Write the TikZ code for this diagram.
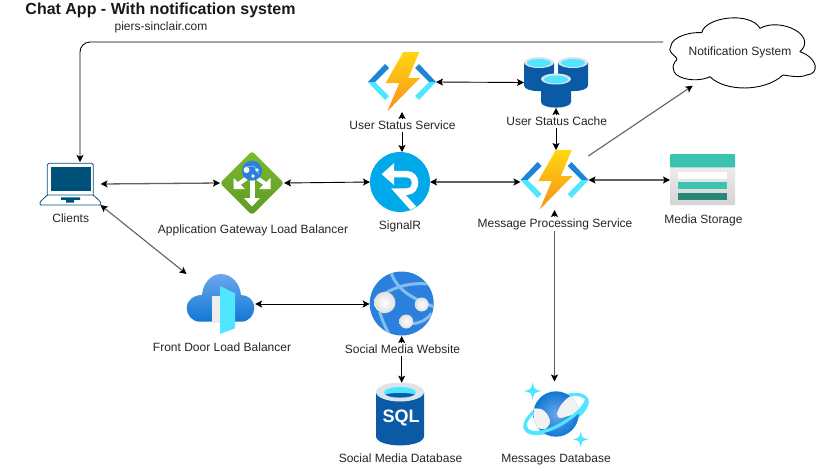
\documentclass[tikz,border=0pt]{standalone}
\usepackage{fontspec}
\setmainfont{Liberation Sans}
\usetikzlibrary{arrows.meta}
\definecolor{funcdark}{HTML}{1B85DA}
\definecolor{funclight}{HTML}{50E6FF}
\definecolor{boltup}{HTML}{FFD70F}
\definecolor{boltdown}{HTML}{F98F1D}
\definecolor{drumedge}{HTML}{0A5AA5}
\definecolor{drummid}{HTML}{0A78D0}
\definecolor{rimgray}{HTML}{DDE3E8}
\definecolor{azureblue}{HTML}{2A80DC}
\definecolor{bandblue}{HTML}{86BDF0}
\definecolor{signalblue}{HTML}{00A9EA}
\definecolor{gateup}{HTML}{7CBA2E}
\definecolor{gatedown}{HTML}{5C9A26}
\definecolor{laptopblue}{HTML}{00517A}
\definecolor{doorup}{HTML}{6CA6EE}
\definecolor{doordown}{HTML}{0F78D4}
\definecolor{tealup}{HTML}{3AC4B0}
\definecolor{tealdown}{HTML}{2A8577}
\tikzset{
	>={Stealth[length=7pt,width=7pt,inset=1.5pt,color=black]},
	iconbox/.style={inner sep=0,outer sep=0},
	textlabel/.style={inner sep=0,outer sep=0,fill=white,text=black!85,font=\fontsize{12}{14}\selectfont,text height=10.5pt,text depth=3pt},
	thinlink/.style={<->,line width=0.9pt,color=black},
	greylink/.style={<->,line width=1.3pt,color=black!62},
}
% function icon, brackets and bolt
\def\funcicon(#1,#2){
	\begin{scope}[shift={(#1,#2)}]
		\fill[funcdark] (-34,0) -- (-17,-18) -- (-13,-14) -- (-27,0) -- cycle;
		\fill[funclight] (-34,0) -- (-17,18) -- (-13,14) -- (-27,0) -- cycle;
		\fill[funcdark] (34,0) -- (17,-18) -- (13,-14) -- (27,0) -- cycle;
		\fill[funclight] (34,0) -- (17,18) -- (13,14) -- (27,0) -- cycle;
		\shade[top color=boltup,bottom color=boltdown] (1.3,-30) -- (17.3,-30) -- (6.3,-4) -- (18,-4) -- (-14.7,29.3) -- (-2.7,1) -- (-16.3,1) -- cycle;
	\end{scope}
}
% one drum of the cache
\def\cachedrum(#1,#2){
	\begin{scope}[shift={(#1,#2)}]
		\shade[left color=drumedge,middle color=drummid,right color=drumedge] (-15,0) -- (-15,23) .. controls (-15,30.5) and (15,30.5) .. (15,23) -- (15,0) -- cycle;
		\fill[rimgray] (0,0) ellipse (15 and 5.5);
		\fill[funclight] (0,0.5) ellipse (12 and 4);
	\end{scope}
}
\def\sparkle(#1,#2,#3){
	\fill[funclight,shift={(#1,#2)}] (0,-#3) .. controls (0.17*#3,-0.17*#3) .. (#3,0) .. controls (0.17*#3,0.17*#3) .. (0,#3) .. controls (-0.17*#3,0.17*#3) .. (-#3,0) .. controls (-0.17*#3,-0.17*#3) .. cycle;
}

\begin{document}
\begin{tikzpicture}[x=1pt,y=-1pt]
		%%%%% START %%%%%
		\useasboundingbox (0,0) rectangle (821,467);

		\node[iconbox,minimum width=60,minimum height=42] (clients) at (70.5,184) {};
		\node[iconbox,minimum width=64,minimum height=64] (gateway) at (252,183) {};
		\node[iconbox,minimum width=60,minimum height=60] (signalr) at (400,182) {};
		\node[iconbox,minimum width=68,minimum height=60] (statusfunc) at (402,82) {};
		\node[iconbox,minimum width=64,minimum height=51] (statuscache) at (556,82.5) {};
		\node[iconbox,minimum width=68,minimum height=60] (messagefunc) at (554.5,180) {};
		\node[iconbox,minimum width=65,minimum height=51] (mediastore) at (702.5,180) {};
		\node[iconbox,minimum width=68.5,minimum height=48] (frontdoor) at (220.8,298) {};
		\node[iconbox,minimum width=64,minimum height=64] (website) at (401.7,304) {};
		\node[iconbox,minimum width=48,minimum height=63] (sqldb) at (400,414.2) {};
		\node[iconbox,minimum width=64,minimum height=66] (cosmosdb) at (556,414.5) {};

		% laptop
		\draw[laptopblue,line width=0.8pt,rounded corners=1.5pt] (47.3,195) -- (47.3,163.3) -- (93.3,163.3) -- (93.3,195);
		\fill[laptopblue] (50.7,166.7) rectangle (90.7,190.7);
		\draw[laptopblue,line width=0.8pt,rounded corners=1pt] (47.3,195) -- (93.3,195) -- (100.7,202) -- (100.7,205) -- (40,205) -- (40,202) -- cycle;
		\fill[laptopblue] (61,197.3) -- (80,197.3) -- (80,199.8) -- (74,199.8) -- (74,202.5) -- (66,202.5) -- (66,199.8) -- (61,199.8) -- cycle;

		% gateway
		\shade[top color=gateup,bottom color=gatedown,rounded corners=3pt] (252,151) -- (284,183) -- (252,215) -- (220,183) -- cycle;
		\begin{scope}[shift={(252,183)}]
			\draw[white,line width=5pt] (0,-5) -- (0,16);
			\fill[white] (-8,15) -- (8,15) -- (0,23.5) -- cycle;
			\draw[white,line width=4pt] (-15,2) -- (-5,-5);
			\fill[white] (-18.5,6) -- (-18.5,-5) -- (-7,6) -- cycle;
			\draw[white,line width=4pt] (15,2) -- (5,-5);
			\fill[white] (18.5,6) -- (18.5,-5) -- (7,6) -- cycle;
			\fill[azureblue] (0,-12.3) circle (10);
			\draw[bandblue,line width=0.8pt] (-7,-16) -- (2,-17) -- (7,-9);
			\fill[white] (-5.5,-13) circle (3);
			\fill[white] (5,-13) circle (1.8);
			\fill[white] (1,-7) circle (1.8);
		\end{scope}

		% signalr
		\fill[signalblue] (signalr.center) circle (30);
		\begin{scope}[shift={(400,181.5)}]
			\clip (0,0) circle (30);
			\draw[white,line width=6.5pt] (-6,-7.3) -- (6.7,-7.3) .. controls (12,-7.3) and (15,-3) .. (15,1) .. controls (15,6) and (12,10) .. (7.7,10) -- (-1.7,10) -- (18,32);
			\fill[white] (-18.3,-7.3) -- (-6,-18.3) -- (-6,3.5) -- cycle;
		\end{scope}

		% function icons and cache
		\funcicon(402,82)
		\funcicon(554.5,180)
		\cachedrum(539,62.5)
		\cachedrum(573,62.5)
		\cachedrum(556,79)

		% storage
		\shade[top color=black!7,bottom color=black!17,rounded corners=1pt] (670,165) rectangle (735,205);
		\fill[tealup,rounded corners=1pt] (670,154) rectangle (735,167.3);
		\fill[white] (678,171.7) rectangle (727,178.7);
		\fill[tealup] (678,182) rectangle (727,189.3);
		\fill[tealdown] (678,192.7) rectangle (727,200.3);

		% front door
		\shade[top color=doorup,bottom color=doordown] (200,321.7) .. controls (192,321.7) and (186.7,315) .. (186.7,308) .. controls (186.7,300) and (194,295) .. (202,295) .. controls (203,283) and (211,274) .. (221,274) .. controls (231,274) and (240,283) .. (241,295) .. controls (248,295) and (254.3,300) .. (254.3,308) .. controls (254.3,315) and (249,321.7) .. (241,321.7) -- cycle;
		\fill[black!7] (211.7,296) rectangle (220,322.7);
		\fill[funclight] (220,286) -- (235,293.3) -- (235,328.3) -- (220,334) -- cycle;

		% website
		\begin{scope}[shift={(401.7,303.5)}]
			\fill[azureblue] (0,0) circle (32);
			\clip (0,0) circle (32);
			\draw[bandblue,line width=3pt] (-11,-32) .. controls (-5,-14) and (8,-6) .. (34,4);
			\draw[bandblue,line width=3pt] (-27,-3) .. controls (-10,-17) and (10,-22) .. (30,-19);
			\draw[bandblue,line width=3pt] (-22,8) .. controls (-20,16) and (-17,22) .. (-13,30);
			\draw[bandblue,line width=3pt] (10,20) .. controls (18,20) and (24,17) .. (30,10);
			\shade[inner color=white,outer color=black!12] (-17,-1) circle (10.7);
			\shade[inner color=white,outer color=black!12] (20,1) circle (7);
			\shade[inner color=white,outer color=black!12] (4.5,18) circle (7);
		\end{scope}

		% sql
		\shade[left color=drumedge,middle color=drummid,right color=drumedge] (376,392) -- (376,436) .. controls (376,448.5) and (424,448.5) .. (424,436) -- (424,392) -- cycle;
		\fill[rimgray] (400,392) ellipse (24 and 9.5);
		\fill[funclight] (400,392.5) ellipse (16 and 5.5);
		\fill[drumedge] (385.5,394.5) .. controls (390,392.5) and (410,392.5) .. (414.5,394.5) .. controls (410,398.5) and (390,398.5) .. (385.5,394.5) -- cycle;
		\node[inner sep=0,text=white,font=\fontsize{18}{20}\selectfont\bfseries] (sqlword) at (401,418) {SQL};

		% cosmos
		\draw[funclight,line width=3.2pt,rotate around={26:(556,414)}] (556,414) ellipse (34 and 14);
		\shade[inner color=doorup,outer color=doordown] (556,414) circle (22.7);
		\begin{scope}
			\clip (556,414) circle (22.7);
			\fill[black!5] plot[smooth cycle] coordinates {(557,414) (561,405) (570,396.5) (578,401) (579,412) (568,416) (560,418)};
			\fill[black!5] plot[smooth cycle] coordinates {(531,410) (541,409) (547,414) (550,422) (545,429) (535,426)};
		\end{scope}
		\draw[funclight,line width=3.2pt] (525.5,426.5) .. controls (526,433) and (536,434) .. (547,430.5) .. controls (562,426) and (584,410) .. (586.5,400);
		\sparkle(532.7,391,9)
		\sparkle(580.7,439.3,8)

		% notification cloud
		\draw[black,line width=0.9pt,fill=white] (670.7,46.7) .. controls (671.7,36.7) and (690,31.7) .. (701.7,32.7) .. controls (705,17) and (750,11) .. (760,28.3) .. controls (780,17) and (818,35) .. (800,51.7) .. controls (818,58) and (820,74) .. (806.7,75) .. controls (800,78) and (790,76) .. (783,75) .. controls (765,92) and (725,92) .. (710,76.7) .. controls (695,84) and (665,78) .. (675,61.7) .. controls (682,57) and (666,54) .. cycle;
		\node[textlabel,fill=none] (notify) at (740,52) {Notification System};

		\coordinate (notifyout) at (663,42);
		\coordinate (clientsin) at (80,162);
		\coordinate (messageout) at (588.3,156);
		\coordinate (notifyin) at (692.7,85.7);

		% connectors
		\draw[->,line width=0.9pt,rounded corners=10pt] (notifyout) -| (clientsin);
		\draw[thinlink] (statusfunc.east) -- (statuscache.west);
		\draw[thinlink] (statusfunc.south) -- (statusfunc.south |- signalr.north);
		\draw[thinlink] (statuscache.south) -- (statuscache.south |- messagefunc.north);
		\draw[thinlink] (gateway.east) -- (signalr.west);
		\draw[greylink] (clients.east) -- (gateway.west);
		\draw[greylink] (signalr.east) -- (signalr.east -| messagefunc.west);
		\draw[greylink] (messagefunc.east) -- (mediastore.west);
		\draw[greylink,line width=1.1pt] (clients.south east) -- (frontdoor.north west);
		\draw[greylink,<-,line width=1.1pt] (notifyin) -- (messageout);
		\draw[greylink,line width=1.1pt] (messagefunc.south) -- (messagefunc.south |- cosmosdb.north);
		\draw[thinlink] (frontdoor.east |- website.west) -- (website.west);
		\draw[thinlink] (website.south) -- (website.south |- sqldb.north);

		% labels
		\node[inner sep=0,text=black!90,font=\fontsize{16}{18}\selectfont\bfseries] (title) at (160.5,10) {Chat App - With notification system};
		\node[textlabel] (sitename) at (161,27) {piers-sinclair.com};
		\node[textlabel] (clientstext) at (70.7,219) {Clients};
		\node[textlabel] (gatewaytext) at (253,230) {Application Gateway Load Balancer};
		\node[textlabel] (signalrtext) at (400,225.5) {SignalR};
		\node[textlabel] (statusfunctext) at (402.5,125.7) {User Status Service};
		\node[textlabel] (statuscachetext) at (556.7,121.7) {User Status Cache};
		\node[textlabel] (messagefunctext) at (555,224) {Message Processing Service};
		\node[textlabel] (mediastoretext) at (703.5,220) {Media Storage};
		\node[textlabel] (frontdoortext) at (222,347.5) {Front Door Load Balancer};
		\node[textlabel] (websitetext) at (402.5,349.5) {Social Media Website};
		\node[textlabel] (sqldbtext) at (400.5,459) {Social Media Database};
		\node[textlabel] (cosmosdbtext) at (556,459) {Messages Database};

		%%%%% END %%%%%
	\end{tikzpicture}
\end{document}
